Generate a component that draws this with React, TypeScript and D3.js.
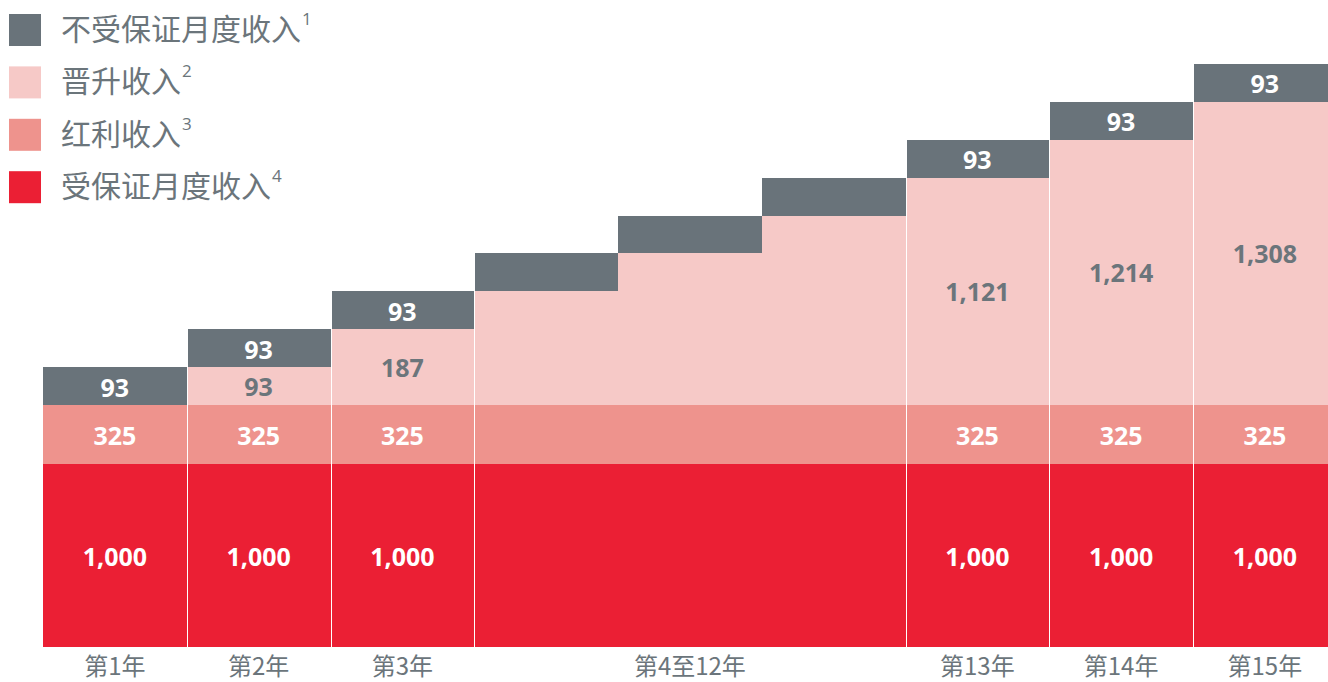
import * as d3 from 'd3';

const categories = ['第1年', '第2年', '第3年', '第4至12年', '第13年', '第14年', '第15年'];
// how many drawn columns each category takes (第4至12年 is drawn as three steps)
const categorySpan = [1, 1, 1, 3, 1, 1, 1];

// one entry per drawn column
const guaranteed = [1000, 1000, 1000, 1000, 1000, 1000, 1000, 1000, 1000];
const bonus = [325, 325, 325, 325, 325, 325, 325, 325, 325];
const promotion = [0, 93, 187, null, null, null, 1121, 1214, 1308];
// the upper part is schematic: each column rises one step
const promotionLevel = [0, 1, 2, 3, 4, 5, 6, 7, 8];
const nonGuaranteed = [93, 93, 93, 93, 93, 93, 93, 93, 93];
const labelled = [true, true, true, false, false, false, true, true, true];

const legendNames = ['不受保证月度收入', '晋升收入', '红利收入', '受保证月度收入'];
const legendNotes = ['1', '2', '3', '4'];

const C = { grey: '#69737a', pink: '#f6c9c7', orange: '#ee938d', red: '#eb1f34', text: '#6b757b' };
const legendColors = [C.grey, C.pink, C.orange, C.red];

const W = 1328, H = 682;
const numFont = '"Open Sans", "DejaVu Sans", sans-serif';
const cjkFont = '"Noto Sans CJK SC", "Noto Sans", sans-serif';

export default function App() {
  const n = guaranteed.length;
  const x = d3.scaleLinear().domain([0, n]).range([43, 43 + n * 143.75]);
  const yValue = d3.scaleLinear().domain([0, 1325]).range([647, 405]).interpolate(d3.interpolateRound);
  const yLevel = d3.scaleLinear().domain([0, 9]).range([405, 64]);
  const fmt = d3.format(',');

  // group start index of each category
  const starts = d3.cumsum([0, ...categorySpan]).slice(0, categories.length);
  const groupStart = new Set(starts);

  const cols = guaranteed.map((g, i) => {
    const x0 = Math.round(x(i)) + (groupStart.has(i) && i > 0 ? 1 : 0);
    const x1 = Math.round(x(i + 1));
    return { i, x0, x1, cx: (x(i) + x(i + 1)) / 2 };
  });

  const valueLabel = (t: string, cx: number, cy: number, fill: string) => (
    <text x={cx} y={cy} textAnchor="middle" dominantBaseline="central"
      fontFamily={numFont} fontWeight={700} fontSize={25} fill={fill}>{t}</text>
  );

  return (
    <div style={{ position: 'absolute', left: 0, top: 0 }}>
      <svg width={W} height={H} style={{ display: 'block' }}>
        <rect width={W} height={H} fill="#fff" />

        {/* legend */}
        {legendNames.map((name, i) => (
          <g key={name} transform={`translate(9,${14 + i * 52.4})`}>
            <rect width={32} height={32} fill={legendColors[i]} />
            <text x={52} y={13} dominantBaseline="central" fontFamily={cjkFont} fontSize={30} fill={C.text}>
              {name}
              <tspan fontSize={17} dy={-9} dx={1} fontFamily={numFont}>{legendNotes[i]}</tspan>
            </text>
          </g>
        ))}

        {/* bars */}
        <g shapeRendering="crispEdges">
          {cols.map(c => {
            const i = c.i;
            const w = c.x1 - c.x0;
            const redTop = yValue(guaranteed[i]);
            const orangeTop = yValue(guaranteed[i] + bonus[i]);
            const pinkTop = Math.round(yLevel(promotionLevel[i]));
            const greyTop = Math.round(yLevel(promotionLevel[i] + 1));
            return (
              <g key={i}>
                <rect x={c.x0} y={redTop} width={w} height={yValue(0) - redTop} fill={C.red} />
                <rect x={c.x0} y={orangeTop} width={w} height={redTop - orangeTop} fill={C.orange} />
                {promotionLevel[i] > 0 && (
                  <rect x={c.x0} y={pinkTop} width={w} height={orangeTop - pinkTop} fill={C.pink} />
                )}
                <rect x={c.x0} y={greyTop} width={w} height={pinkTop - greyTop} fill={C.grey} />
              </g>
            );
          })}
        </g>

        {/* value labels */}
        {cols.filter(c => labelled[c.i]).map(c => {
          const i = c.i;
          const redTop = yValue(guaranteed[i]);
          const orangeTop = yValue(guaranteed[i] + bonus[i]);
          const pinkTop = yLevel(promotionLevel[i]);
          const greyTop = yLevel(promotionLevel[i] + 1);
          const p = promotion[i];
          return (
            <g key={i}>
              {valueLabel(fmt(guaranteed[i]), c.cx, (redTop + yValue(0)) / 2, '#fff')}
              {valueLabel(fmt(bonus[i]), c.cx, (orangeTop + redTop) / 2, '#fff')}
              {p != null && p > 0 && valueLabel(fmt(p), c.cx, (pinkTop + orangeTop) / 2, C.text)}
              {valueLabel(fmt(nonGuaranteed[i]), c.cx, (greyTop + pinkTop) / 2 + 0.5, '#fff')}
            </g>
          );
        })}

        {/* category axis */}
        {categories.map((cat, k) => {
          const cx = (x(starts[k]) + x(starts[k] + categorySpan[k])) / 2;
          return (
            <text key={cat} x={cx} y={664} textAnchor="middle" dominantBaseline="central"
              fontFamily={cjkFont} fontSize={24} fill={C.text}>{cat}</text>
          );
        })}
      </svg>
    </div>
  );
}
